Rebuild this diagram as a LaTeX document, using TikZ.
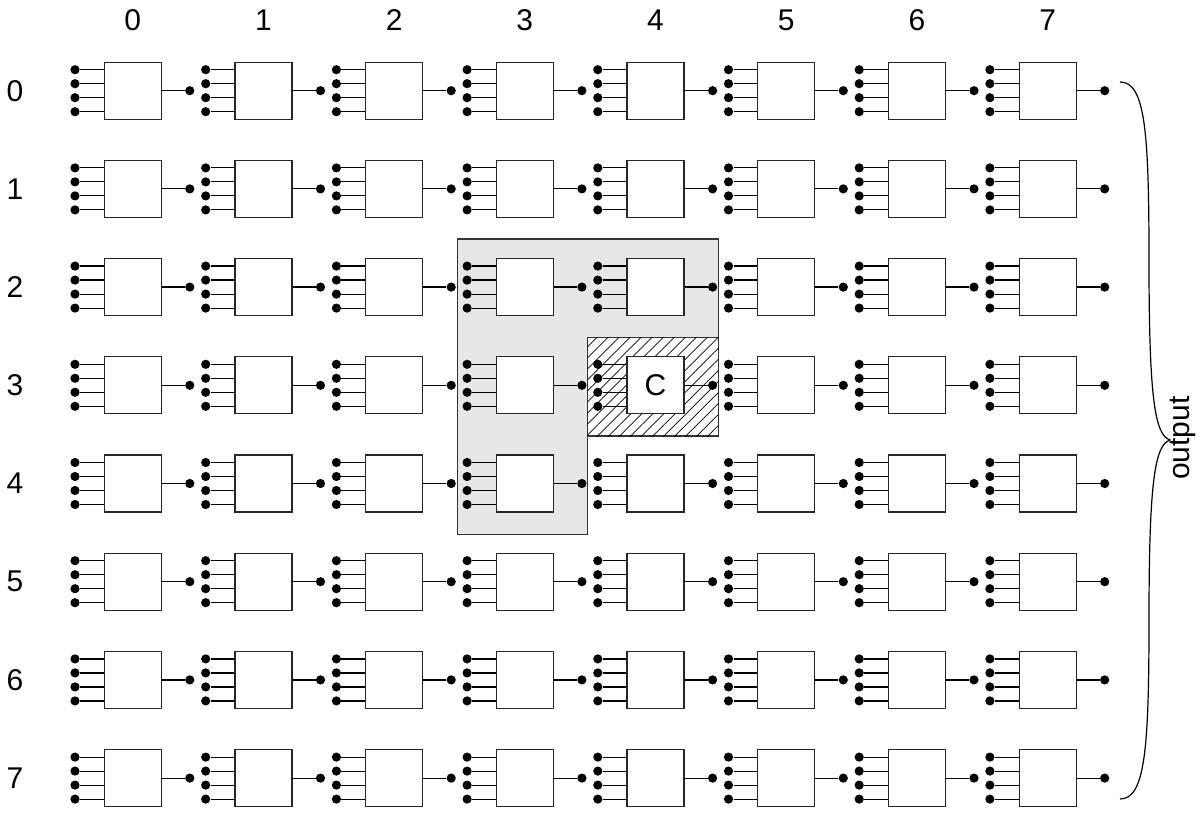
\documentclass[tikz,border=0pt]{standalone}
\usepackage{fontspec}
\setmainfont{Liberation Sans}
\usepackage{tikz}
\usetikzlibrary{calc,patterns.meta}

\begin{document}
\begin{tikzpicture}[x=0.5pt, y=-0.5pt,
  cell/.style={rectangle, draw=black!85, fill=white, line width=0.6pt, minimum size=28.5pt, inner sep=0pt, font=\fontsize{15}{18}\selectfont},
  pin/.style={circle, fill=black, minimum size=4.6pt, inner sep=0pt},
  wire/.style={draw, line width=0.6pt},
  idx/.style={font=\fontsize{15}{18}\selectfont, inner sep=0pt}]

  \useasboundingbox (0,0) rectangle (1201,813);

  % region around cell C
  \path [fill={rgb,255:red,230;green,231;blue,232}, draw=black!80, line width=0.6pt]
    (457.3,239) -- (718.3,239) -- (718.3,337.7) -- (587.7,337.7) -- (587.7,534.3) -- (457.3,534.3) -- cycle;
  \path [fill=white, draw=black!80, line width=0.6pt] (587.7,337.7) rectangle (718.3,436);
  \path [pattern={Lines[angle=45, distance=3.9pt, line width=0.35pt]}] (587.7,337.7) rectangle (718.3,436);

  % column numbers
  \foreach \c in {0,...,7}
    \node [idx] (col\c) at (132.7+130.7*\c, 20) {\c};

  % the array
  \foreach \r in {0,...,7}{
    \node [idx] (row\r) at (15, 90.7+98.2*\r) {\r};
    \foreach \c in {0,...,7}{
      \node [cell] (c-\r-\c) at (132.7+130.7*\c, 90.7+98.2*\r) {};
      \node [pin] (o-\r-\c) at ($(c-\r-\c.east)+(28,0)$) {};
      \path [wire] (c-\r-\c.east) -- (o-\r-\c);
      \foreach \k in {1,...,4}{
        \node [pin] (i-\r-\c-\k) at ($(c-\r-\c.west)+(-28.6,-35+14*\k)$) {};
        \path [wire] (i-\r-\c-\k) -- (i-\r-\c-\k -| c-\r-\c.west);
      }
    }
  }
  \node [idx] (ctext) at (c-3-4) {C};

  % output brace
  \coordinate (btop) at (1120,82);
  \coordinate (bbot) at (1120,799);
  \coordinate (btip) at (1170,440);
  \path [wire] (btop) .. controls (1145,82) and (1149,130) .. (1149,260)
    .. controls (1149,400) and (1155,435) .. (btip)
    .. controls (1155,445) and (1149,480) .. (1149,620)
    .. controls (1149,750) and (1145,799) .. (bbot);
  \node [idx, rotate=90] (out) at (1183,438) {output};
\end{tikzpicture}
\end{document}
